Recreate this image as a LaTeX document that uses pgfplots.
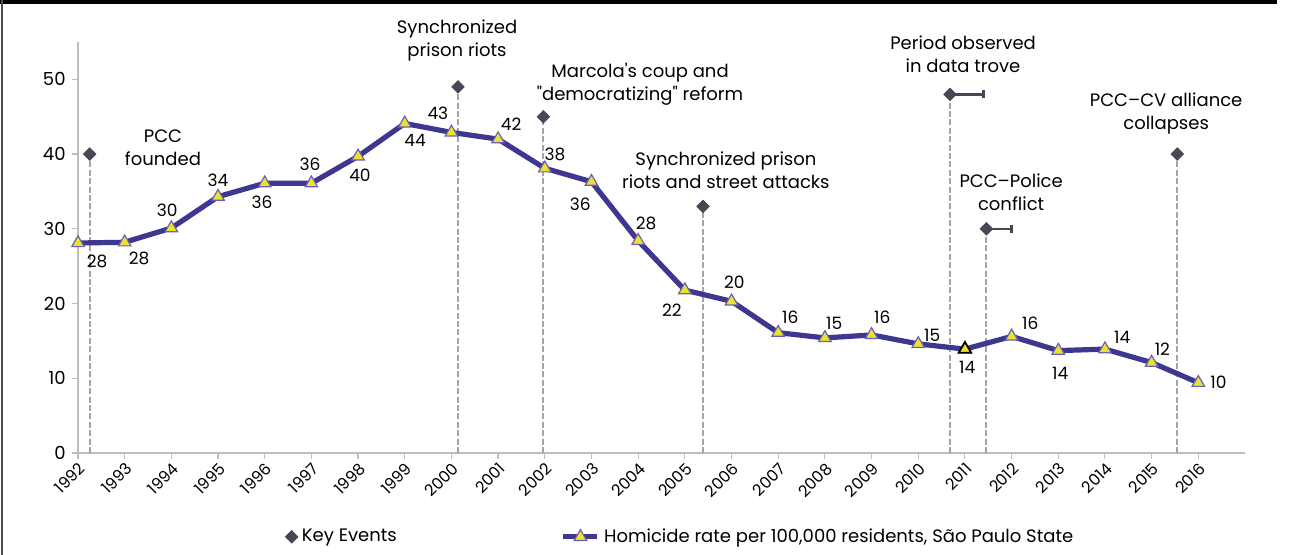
\documentclass[border=0pt]{standalone}
\usepackage{pgfplots}
\pgfplotsset{compat=1.18}
\usepackage{fontspec}
\setmainfont{Poppins}

\definecolor{ratecol}{RGB}{61,55,143}
\definecolor{markfill}{RGB}{236,226,45}
\definecolor{markdraw}{RGB}{105,96,185}
\definecolor{keycol}{RGB}{74,70,86}
\definecolor{dashcol}{RGB}{165,165,165}
\definecolor{axcol}{RGB}{190,190,190}

% homicide rate per 100,000 residents
\pgfplotstableread{
year rate
1992 28.1
1993 28.2
1994 30.1
1995 34.3
1996 36.1
1997 36.1
1998 39.7
1999 44.1
2000 42.9
2001 42.0
2002 38.1
2003 36.3
2004 28.4
2005 21.8
2006 20.3
2007 16.1
2008 15.4
2009 15.8
2010 14.6
2011 13.9
2012 15.6
2013 13.7
2014 13.9
2015 12.1
2016 9.4
}\ratetable

% key events (x position, height of the marker, length of the bar)
\pgfplotstableread{
x y ex
1992.25 40 0
2000.14 49 0
2001.97 45 0
2005.39 33 0
2010.68 48 0.72
2011.46 30 0.54
2015.55 40 0
}\eventtable

\newcommand{\lab}{\fontsize{8.5}{10}\selectfont}
\newcommand{\ann}{\fontsize{9}{11.5}\selectfont}

\begin{document}
\begin{tikzpicture}
\begin{axis}[
    at={(0,0)}, anchor=south west,
    scale only axis,
    width=583.5pt, height=205.5pt,
    xmin=1992, xmax=2017,
    ymin=0, ymax=55,
    clip=false,
    axis lines*=left,
    axis line style={axcol, line width=0.8pt},
    xtick={1992,...,2016},
    ytick={0,10,20,30,40,50},
    tick align=outside,
    major tick length=3pt,
    tick style={axcol, line width=0.6pt},
    /pgf/number format/1000 sep={},
    /pgf/number format/assume math mode=true,
    tick label style={font=\fontsize{9}{10}\selectfont, black},
    x tick label style={rotate=45, anchor=north east, inner sep=0.8pt,
        font=\fontsize{8}{9}\selectfont},
    y tick label style={inner sep=3pt},
    legend style={at={(0.517,-0.204)}, anchor=center, draw=none, fill=none,
        legend columns=2, font=\fontsize{9}{11}\selectfont,
        /tikz/every even column/.append style={column sep=80pt}},
    legend cell align=left,
]
    % dashed drop lines of the key events
    \addplot[ycomb, dashcol, line width=1pt, dash pattern=on 3pt off 1.2pt, no marks,
        forget plot] table[x=x, y=y] {\eventtable};

    % key events
    \addplot[only marks, mark=square*, mark size=2.2pt, color=keycol,
        mark options={rotate=45},
        error bars/.cd, x dir=plus, x explicit,
        error bar style={line width=1.3pt, keycol},
        error mark options={rotate=90, mark size=2pt, line width=1.3pt, keycol}]
        table[x=x, y=y, x error=ex] {\eventtable};
    \addlegendentry{Key Events}

    % homicide rate
    \addplot[ratecol, line width=2.6pt, mark=triangle*, mark size=3.6pt,
        mark options={fill=markfill, draw=markdraw, line width=0.6pt}]
        table[x=year, y=rate] {\ratetable};
    \addlegendentry{Homicide rate per 100,000 residents, São Paulo State}

    % 2011 highlighted
    \addplot[only marks, mark=triangle*, mark size=3.6pt,
        mark options={fill=markfill, draw=black, line width=0.9pt}, forget plot]
        coordinates {(2011,13.9)};

    % value labels
    \node[font=\lab] at (axis cs:1992.41,25.6) {28};
    \node[font=\lab] at (axis cs:1993.31,26.1) {28};
    \node[font=\lab] at (axis cs:1993.91,32.5) {30};
    \node[font=\lab] at (axis cs:1995.00,36.5) {34};
    \node[font=\lab] at (axis cs:1995.94,33.6) {36};
    \node[font=\lab] at (axis cs:1996.97,38.6) {36};
    \node[font=\lab] at (axis cs:1998.04,37.2) {40};
    \node[font=\lab] at (axis cs:1999.22,41.8) {44};
    \node[font=\lab] at (axis cs:1999.71,45.4) {43};
    \node[font=\lab] at (axis cs:2001.28,44.0) {42};
    \node[font=\lab] at (axis cs:2002.22,40.0) {38};
    \node[font=\lab] at (axis cs:2002.76,33.3) {36};
    \node[font=\lab] at (axis cs:2004.17,30.7) {28};
    \node[font=\lab] at (axis cs:2004.72,19.1) {22};
    \node[font=\lab] at (axis cs:2006.06,22.8) {20};
    \node[font=\lab] at (axis cs:2007.26,18.2) {16};
    \node[font=\lab] at (axis cs:2008.20,17.4) {15};
    \node[font=\lab] at (axis cs:2009.23,18.2) {16};
    \node[font=\lab] at (axis cs:2010.30,15.8) {15};
    \node[font=\lab] at (axis cs:2011.05,11.5) {14};
    \node[font=\lab] at (axis cs:2012.40,17.3) {16};
    \node[font=\lab] at (axis cs:2013.04,10.6) {14};
    \node[font=\lab] at (axis cs:2014.37,15.5) {14};
    \node[font=\lab] at (axis cs:2015.23,13.9) {12};
    \node[font=\lab] at (axis cs:2016.43,9.4) {10};

    % event annotations
    \node[font=\ann, align=center] at (axis cs:1993.82,40.8) {PCC\\founded};
    \node[font=\ann, align=center] at (axis cs:2000.12,55.2) {Synchronized\\prison riots};
    \node[font=\ann, align=center] at (axis cs:2004.04,49.4) {Marcola\textquotesingle s coup and\\\textquotedbl democratizing\textquotedbl{} reform};
    \node[font=\ann, align=center] at (axis cs:2005.88,37.9) {Synchronized prison\\riots and street attacks};
    \node[font=\ann, align=center] at (axis cs:2010.96,53.4) {Period observed\\in data trove};
    \node[font=\ann, align=center] at (axis cs:2011.99,34.9) {PCC–Police\\conflict};
    \node[font=\ann, align=center] at (axis cs:2015.31,45.4) {PCC–CV alliance\\collapses};
\end{axis}
% frame of the figure
\draw[black, line width=2pt] (-39pt,225.5pt) -- (599.5pt,225.5pt);
\draw[black!70, line width=0.7pt] (-38pt,226.5pt) -- (-38pt,-51pt);
\pgfresetboundingbox
\useasboundingbox (-39pt,-51pt) rectangle (605.5pt,226.5pt);
\end{tikzpicture}
\end{document}
